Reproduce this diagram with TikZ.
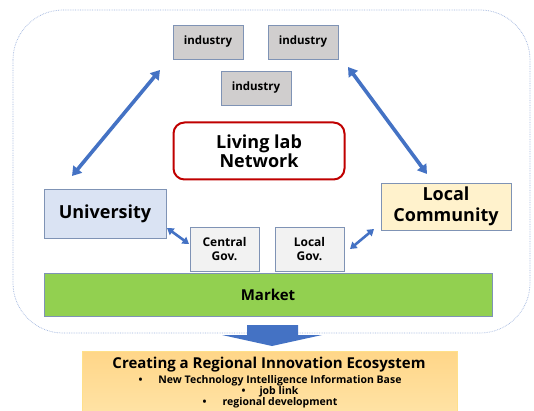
\documentclass[tikz,border=0pt]{standalone}
\usepackage{fontspec}
\setmainfont{Open Sans}
\usetikzlibrary{arrows.meta}

\definecolor{linkblue}{HTML}{4472C4}
\definecolor{framblue}{HTML}{9DB3DD}
\definecolor{boxedge}{HTML}{7F93B5}
\definecolor{indfill}{HTML}{D0CECE}
\definecolor{govfill}{HTML}{F2F2F2}
\definecolor{unifill}{HTML}{DAE3F3}
\definecolor{comfill}{HTML}{FFF2CC}
\definecolor{mktfill}{HTML}{92D050}
\definecolor{labred}{HTML}{C00000}
\definecolor{ecotop}{HTML}{FFD688}
\definecolor{ecobot}{HTML}{FFE3A6}
\definecolor{ecoedge}{HTML}{FFE08A}

\tikzset{
  actor/.style={draw=boxedge, line width=0.8pt, align=center, inner sep=0pt,
                font=\bfseries},
  indbox/.style={actor, fill=indfill, minimum width=70pt, minimum height=34pt,
                 font=\bfseries\fontsize{11.5}{14}\selectfont},
  govbox/.style={actor, fill=govfill, minimum width=69pt, minimum height=44pt,
                 font=\bfseries\fontsize{12}{14}\selectfont},
  bigtext/.style={font=\bfseries\fontsize{18}{21}\selectfont},
  link/.style={draw=linkblue, line width=3.6pt,
               {Triangle[length=9pt,width=11pt]}-{Triangle[length=9pt,width=11pt]}},
  shortlink/.style={draw=linkblue, line width=2.6pt,
               {Triangle[length=6.5pt,width=8pt]}-{Triangle[length=6.5pt,width=8pt]}},
  ecoline/.style={font=\bfseries\fontsize{10.5}{12}\selectfont, inner sep=0pt}
}

\begin{document}
\begin{tikzpicture}[x=1pt,y=-1pt]
\useasboundingbox (0,0) rectangle (534,411);
\fill[white] (0,0) rectangle (534,411);

% surrounding network frame
\draw[framblue, densely dotted, line width=0.7pt, rounded corners=50pt]
  (13,10) rectangle (530,333);

% industry partners
\node[indbox] (ind1) at (208,42) {industry};
\node[indbox] (ind2) at (303,42) {industry};
\node[indbox] (ind3) at (256,88) {industry};

% central node
\node[draw=labred, line width=2pt, rounded corners=11pt, fill=white,
      minimum width=171pt, minimum height=57pt, align=center,
      font=\bfseries\fontsize{18}{19}\selectfont] (lab) at (259,151)
      {Living lab\\Network};

% main actors
\node[actor, fill=unifill, minimum width=122pt, minimum height=49pt, bigtext]
  (uni) at (105,213.5) {University};
\node[actor, fill=comfill, minimum width=130pt, minimum height=47pt, bigtext]
  (com) at (446,206.5) {Local\\Community};

% government
\node[govbox] (cgov) at (224.5,249) {Central\\Gov.};
\node[govbox] (lgov) at (309.5,249) {Local\\Gov.};

% market
\node[actor, fill=mktfill, minimum width=448pt, minimum height=43pt,
      font=\bfseries\fontsize{15}{18}\selectfont] (mkt) at (268,294.5) {Market};

% connector end points
\coordinate (uniUp)   at (72,176);
\coordinate (indLeft) at (160,70);
\coordinate (indRight) at (348,67);
\coordinate (comUp)   at (427,174);
\coordinate (uniSide) at (167,228);
\coordinate (cgovSide) at (189,244);
\coordinate (lgovSide) at (350,249);
\coordinate (comSide) at (374,229);

\draw[link] (uniUp) -- (indLeft);
\draw[link] (indRight) -- (comUp);
\draw[shortlink] (uniSide) -- (cgovSide);
\draw[shortlink] (lgovSide) -- (comSide);

% outcome arrow
\fill[linkblue] (247,325) -- (298,325) -- (298,335) -- (322,335)
  -- (272,346) -- (222,335) -- (247,335) -- cycle;

% outcome box
\node[draw=ecoedge, line width=0.8pt, top color=ecotop, bottom color=ecobot,
      minimum width=375pt, minimum height=64pt, inner sep=0pt] (eco)
      at (269.5,383) {};
\node[font=\bfseries\fontsize{15}{17}\selectfont, inner sep=0pt] (ecotitle)
      at (269,365) {Creating a Regional Innovation Ecosystem};
\node[ecoline] (eco1) at (270,381)
      {•\hspace{16pt}New Technology Intelligence Information Base};
\node[ecoline] (eco2) at (270,392) {•\hspace{14pt}job link};
\node[ecoline] (eco3) at (270,403) {•\hspace{16pt}regional development};
\end{tikzpicture}
\end{document}
